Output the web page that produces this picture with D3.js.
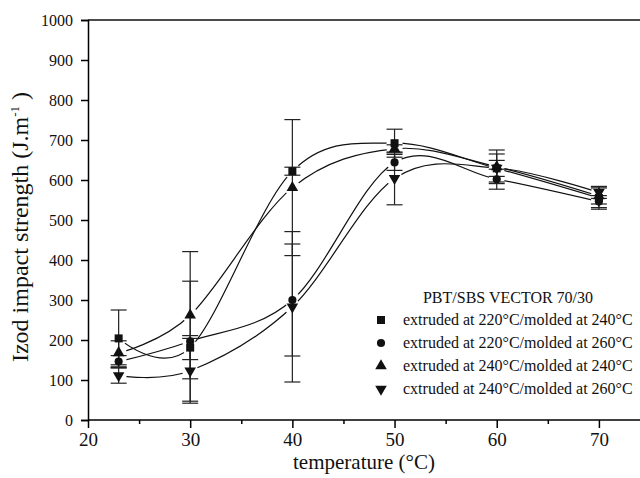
<!DOCTYPE html>
<html>
<head>
<meta charset="utf-8">
<script src="https://cdn.jsdelivr.net/npm/d3@7"></script>
<style>
  body { margin: 0; background: #fff; }
</style>
</head>
<body>
<script>
// Chart size
var w = 640;
var h = 478;
var serif = "Liberation Serif, DejaVu Serif, serif";

// Data
var temps = [23, 30, 40, 50, 60, 70];
var seriesNames = [
    "extruded at 220\u00b0C/molded at 240\u00b0C",
    "extruded at 220\u00b0C/molded at 260\u00b0C",
    "extruded at 240\u00b0C/molded at 240\u00b0C",
    "cxtruded at 240\u00b0C/molded at 260\u00b0C"
];
var sq = [204, 181, 622, 692, 629, 555];
var sqErr = [71, 30, 10, 35, 20, 28];
var ci = [146, 197, 300, 644, 602, 546];
var ciErr = [15, 150, 140, 20, 25, 15];
var up = [168, 262, 581, 678, 633, 560];
var upErr = [30, 159, 170, 10, 42, 20];
var dn = [111, 123, 283, 604, 630, 569];
var dnErr = [19, 81, 188, 66, 35, 15];
var yTicks = [0, 100, 200, 300, 400, 500, 600, 700, 800, 900, 1000];
var xTicks = [20, 30, 40, 50, 60, 70];
var xMinor = [25, 35, 45, 55, 65];

var series = [
    { name: seriesNames[0], vals: sq, err: sqErr, sym: d3.symbolSquare, size: 64, rot: 0 },
    { name: seriesNames[1], vals: ci, err: ciErr, sym: d3.symbolCircle, size: 52, rot: 0 },
    { name: seriesNames[2], vals: up, err: upErr, sym: d3.symbolTriangle, size: 58, rot: 0 },
    { name: seriesNames[3], vals: dn, err: dnErr, sym: d3.symbolTriangle, size: 58, rot: 180 }
];

// Scales (the original frame is cut at the right edge)
var xScale = d3.scaleLinear().domain([20, 75]).range([88, 650]);
var yScale = d3.scaleLinear().domain([0, 1000]).range([420, 20]);

var svg = d3.select("body")
    .append("svg")
    .attr("width", w)
    .attr("height", h)
    .attr("font-family", serif);

var defs = svg.append("defs");

// Top frame line
svg.append("line")
    .attr("x1", xScale(20)).attr("x2", w)
    .attr("y1", yScale(1000)).attr("y2", yScale(1000))
    .attr("stroke", "#111").attr("stroke-width", 1.5);

// X axis
var xAxis = d3.axisBottom(xScale).tickValues(xTicks).tickSize(8).tickPadding(5)
    .tickFormat(d3.format("d"));
var gx = svg.append("g")
    .attr("transform", "translate(0," + yScale(0) + ")")
    .call(xAxis);
gx.attr("font-family", serif);
gx.select(".domain").attr("d", "M" + xScale(20) + ",0H" + w).attr("stroke-width", 1.5);
gx.selectAll(".tick line").attr("stroke-width", 1.5);
gx.selectAll("text").attr("font-size", "19px").attr("font-family", serif).attr("fill", "#111");

// minor ticks on x
svg.append("g")
    .attr("transform", "translate(0," + yScale(0) + ")")
    .call(d3.axisBottom(xScale).tickValues(xMinor).tickSize(4).tickFormat(""))
    .call(function(g) { g.select(".domain").remove(); })
    .selectAll("line").attr("stroke-width", 1.5);

// Y axis
var yAxis = d3.axisLeft(yScale).tickValues(yTicks).tickSize(7).tickPadding(8)
    .tickFormat(d3.format("d"));
var gy = svg.append("g")
    .attr("transform", "translate(" + xScale(20) + ",0)")
    .call(yAxis);
gy.attr("font-family", serif);
gy.select(".domain").attr("stroke-width", 1.5);
gy.selectAll(".tick line").attr("stroke-width", 1.5);
gy.selectAll("text").attr("font-size", "16px").attr("font-family", serif).attr("fill", "#111");

// Axis titles
svg.append("text")
    .attr("x", 364).attr("y", 469)
    .attr("text-anchor", "middle")
    .attr("font-family", serif)
    .attr("font-size", "21px")
    .attr("fill", "#111")
    .text("temperature (\u00b0C)");

var yt = svg.append("text")
    .attr("transform", "translate(28,227) rotate(-90)")
    .attr("text-anchor", "middle")
    .attr("font-family", serif)
    .attr("font-size", "24px")
    .attr("fill", "#111");
yt.append("tspan").text("Izod impact strength (J.m");
yt.append("tspan").attr("dy", -9).attr("font-size", "13px").text("-1");
yt.append("tspan").attr("dy", 9).text(" )");

// Smooth connecting lines, with gaps around the own symbols
var line = d3.line()
    .x(function(d) { return xScale(d[0]); })
    .y(function(d) { return yScale(d[1]); })
    .curve(d3.curveCatmullRom.alpha(0));

series.forEach(function(s, i) {
    var pts = temps.map(function(t, j) { return [t, s.vals[j]]; });
    var m = defs.append("mask").attr("id", "gap" + i)
        .attr("maskUnits", "userSpaceOnUse")
        .attr("x", 0).attr("y", 0).attr("width", w).attr("height", h);
    m.append("rect").attr("width", w).attr("height", h).attr("fill", "#fff");
    m.selectAll("circle")
        .data(pts)
        .enter()
        .append("circle")
        .attr("cx", function(d) { return xScale(d[0]); })
        .attr("cy", function(d) { return yScale(d[1]); })
        .attr("r", 8)
        .attr("fill", "#000");

    svg.append("path")
        .datum(pts)
        .attr("d", line)
        .attr("fill", "none")
        .attr("stroke", "#111")
        .attr("stroke-width", 1.2)
        .attr("mask", "url(#gap" + i + ")");
});

// Error bars
series.forEach(function(s) {
    var g = svg.append("g").attr("stroke", "#222").attr("stroke-width", 1.2);
    temps.forEach(function(t, j) {
        var x = xScale(t);
        var hi = yScale(s.vals[j] + s.err[j]);
        var lo = yScale(s.vals[j] - s.err[j]);
        g.append("line").attr("x1", x).attr("x2", x).attr("y1", hi).attr("y2", lo);
        g.append("line").attr("x1", x - 8).attr("x2", x + 8).attr("y1", hi).attr("y2", hi);
        g.append("line").attr("x1", x - 8).attr("x2", x + 8).attr("y1", lo).attr("y2", lo);
    });
});

// Symbols
series.forEach(function(s) {
    svg.append("g").selectAll("path")
        .data(temps)
        .enter()
        .append("path")
        .attr("d", d3.symbol().type(s.sym).size(s.size))
        .attr("transform", function(t, j) {
            return "translate(" + xScale(t) + "," + yScale(s.vals[j]) + ") rotate(" + s.rot + ")";
        })
        .attr("fill", "#111");
});

// Legend
svg.append("text")
    .attr("x", 508).attr("y", 303)
    .attr("text-anchor", "middle")
    .attr("font-family", serif)
    .attr("font-size", "16px")
    .attr("fill", "#111")
    .text("PBT/SBS VECTOR 70/30");

var legend = svg.selectAll(".legend")
    .data(series)
    .enter()
    .append("g")
    .attr("class", "legend")
    .attr("transform", function(d, i) { return "translate(0," + (325 + i * 23) + ")"; });
legend.append("path")
    .attr("d", function(d) { return d3.symbol().type(d.sym).size(d.size)(); })
    .attr("transform", function(d) { return "translate(381,-5) rotate(" + d.rot + ")"; })
    .attr("fill", "#111");
legend.append("text")
    .attr("x", 403)
    .attr("font-family", serif)
    .attr("font-size", "16px")
    .attr("fill", "#111")
    .text(function(d) { return d.name; });
</script>
</body>
</html>
